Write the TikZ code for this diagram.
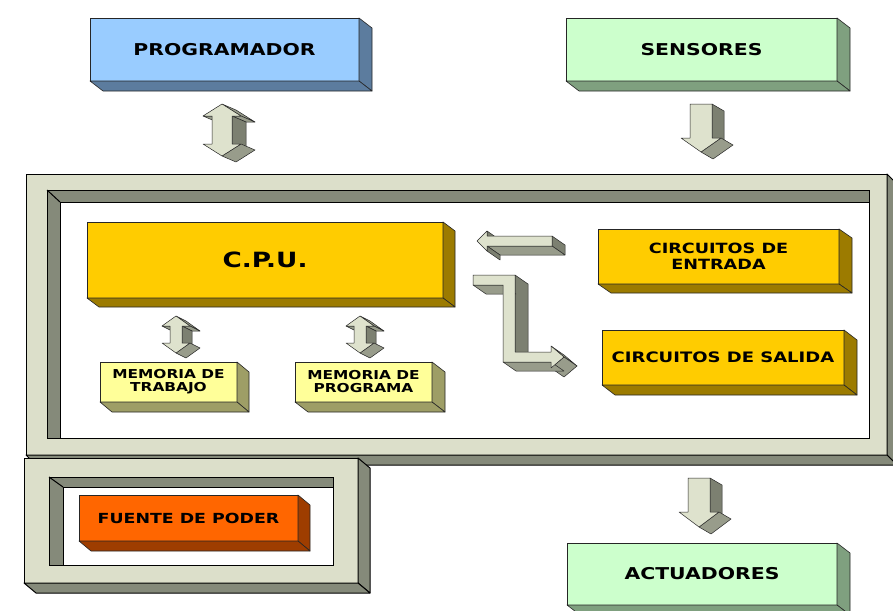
\documentclass[tikz,border=0pt]{standalone}
\usepackage{fontspec}
\newfontfamily\wide[FakeStretch=1.25]{DejaVu Sans}
\usetikzlibrary{calc}

\definecolor{edgecol}{HTML}{262626}
\definecolor{progfront}{HTML}{99CCFF}
\definecolor{progside}{HTML}{5C7C9E}
\definecolor{sensfront}{HTML}{CCFFCC}
\definecolor{sensside}{HTML}{7FA07F}
\definecolor{cpufront}{HTML}{FFCC00}
\definecolor{cpuside}{HTML}{9C7B00}
\definecolor{memfront}{HTML}{FFFF99}
\definecolor{memside}{HTML}{9E9E66}
\definecolor{fuefront}{HTML}{FF6600}
\definecolor{fueside}{HTML}{9E3D00}
\definecolor{framecol}{HTML}{DCDFCA}
\definecolor{bevelcol}{HTML}{858A7A}
\definecolor{arrowlight}{HTML}{DEE2CD}
\definecolor{arrowdark}{HTML}{7C8071}
\definecolor{arrowmid}{HTML}{989C8B}

\tikzset{
  slabface/.style={draw=edgecol, line width=0.6pt, outer sep=0pt, inner sep=0pt,
    align=center, text=black},
  slabside/.style={draw=edgecol, line width=0.6pt, line join=round},
  arrowface/.style={fill=arrowlight, draw=edgecol, line width=0.5pt, line join=round},
  arrowside/.style={draw=edgecol, line width=0.5pt, line join=round},
  framebody/.style={fill=framecol, draw=black, line width=1pt},
  framedepth/.style={fill=bevelcol, draw=black, line width=1pt, line join=round},
}

% extrusion depth of the boxes (down and to the right)
\def\slabdx{12}\def\slabdy{10}
\newcommand\setdepth[2]{\def\slabdx{#1}\def\slabdy{#2}}

% a raised box: name, x1, y1, x2, y2, front colour, side colour, font size, text
\newcommand\slab[9]{%
  \pgfmathsetmacro\slabcx{(#2+#4)/2}\pgfmathsetmacro\slabcy{(#3+#5)/2}%
  \pgfmathsetmacro\slabw{#4-#2}\pgfmathsetmacro\slabh{#5-#3}%
  \node[slabface, fill=#6, minimum width=\slabw pt, minimum height=\slabh pt,
        font={\wide\bfseries#8}] (#1) at (\slabcx,\slabcy) {#9};
  \filldraw[slabside, fill=#7] (#1.north east) -- ++(\slabdx,\slabdy)
     -- ([shift={(\slabdx,\slabdy)}]#1.south east) -- (#1.south east) -- cycle;
  \filldraw[slabside, fill=#7] (#1.south west) -- (#1.south east)
     -- ([shift={(\slabdx,\slabdy)}]#1.south east)
     -- ([shift={(\slabdx,\slabdy)}]#1.south west) -- cycle;
}

% one side face of an extruded outline, drawn only when it faces the viewer
\newcommand\sideface[6]{%
  \pgfmathsetmacro\sfn{(#4-#2)*#5-(#3-#1)*#6}%
  \ifdim\sfn pt>0pt
    \pgfmathsetmacro\sfa{abs(#4-#2)}\pgfmathsetmacro\sfb{abs(#3-#1)}%
    \ifdim\sfa pt>\sfb pt \def\sfcol{arrowdark}\else\def\sfcol{arrowmid}\fi
    \filldraw[arrowside, fill=\sfcol] (#1,#2) -- (#3,#4)
      -- ([shift={(#5,#6)}]#3,#4) -- ([shift={(#5,#6)}]#1,#2) -- cycle;
  \fi}

% a block arrow: depth dx, dy and its outline (clockwise on screen)
\newcommand\solid[3]{%
  \foreach \x/\y [count=\i] in {#3} {\ifnum\i=1 \xdef\sfx{\x}\xdef\sfy{\y}\fi
    \xdef\slx{\x}\xdef\sly{\y}}%
  \sideface{\slx}{\sly}{\sfx}{\sfy}{#1}{#2}%
  \foreach \x/\y [count=\i, remember=\x as \px (initially 0),
                  remember=\y as \py (initially 0)] in {#3}
    {\ifnum\i>1 \sideface{\px}{\py}{\x}{\y}{#1}{#2}\fi}%
  \filldraw[arrowface] (\sfx,\sfy) \foreach \x/\y in {#3} {-- (\x,\y)} -- cycle;
}

\begin{document}
\begin{tikzpicture}[x=1pt, y=-1pt]
\fill[white] (0,0) rectangle (893,610);
\useasboundingbox (0,0) rectangle (893,610);

% ---- main housing ----
\filldraw[framebody] (26,174) rectangle (887,455);
\filldraw[framedepth] (887,174) -- (897,184) -- (897,465) -- (887,455) -- cycle;
\filldraw[framedepth] (26,455) -- (887,455) -- (897,465) -- (36,465) -- cycle;
\fill[bevelcol] (47,190) rectangle (869,438);
\fill[white] (60,202) rectangle (869,438);
\draw[black, line width=1pt] (47,190) rectangle (869,438);
\draw[black, line width=1pt] (47,190) -- (60,202);
\draw[black, line width=1pt] (60,438) -- (60,202) -- (869,202);

% ---- power supply housing ----
\filldraw[framebody] (24,458) rectangle (358,583);
\filldraw[framedepth] (358,458) -- (370,468) -- (370,593) -- (358,583) -- cycle;
\filldraw[framedepth] (24,583) -- (358,583) -- (370,593) -- (36,593) -- cycle;
\fill[bevelcol] (49,477) rectangle (333,565);
\fill[white] (63,487) rectangle (333,565);
\draw[black, line width=1pt] (49,477) rectangle (333,565);
\draw[black, line width=1pt] (49,477) -- (63,487);
\draw[black, line width=1pt] (63,565) -- (63,487) -- (333,487);

% ---- boxes ----
\setdepth{13}{10}
\slab{prog}{90}{18}{359}{81}{progfront}{progside}{\fontsize{16.3}{18}\selectfont}{PROGRAMADOR}
\slab{sens}{566}{18}{837}{81}{sensfront}{sensside}{\fontsize{16.3}{18}\selectfont}{SENSORES}
\slab{act}{567}{543}{837}{605}{sensfront}{sensside}{\fontsize{16.3}{18}\selectfont}{ACTUADORES}
\setdepth{12}{9}
\slab{cpu}{87}{222}{443}{298}{cpufront}{cpuside}{\fontsize{21}{22}\selectfont}{C.P.U.}
\setdepth{12}{10}
\slab{memt}{100}{362}{237}{402}{memfront}{memside}{\fontsize{12.3}{13}\selectfont}{MEMORIA DE\\TRABAJO}
\setdepth{13}{10}
\slab{memp}{295}{362}{432}{402}{memfront}{memside}{\fontsize{12.3}{13}\selectfont}{MEMORIA DE\\PROGRAMA}
\setdepth{13}{9}
\slab{cin}{598}{229}{839}{284}{cpufront}{cpuside}{\fontsize{14.1}{15.5}\selectfont}{CIRCUITOS DE\\ENTRADA}
\setdepth{13}{10}
\slab{cout}{602}{330}{844}{385}{cpufront}{cpuside}{\fontsize{14.4}{16}\selectfont}{CIRCUITOS DE SALIDA}
\setdepth{12}{10}
\slab{fuente}{79}{495}{298}{541}{fuefront}{fueside}{\fontsize{13.9}{15}\selectfont}{FUENTE DE PODER}

% ---- block arrows ----
% programmer <-> controller
\solid{14}{6}{222/104, 241/116, 232/116, 232/144, 241/144, 222/156, 203/144, 212/144, 212/116, 203/116}
% sensors -> controller
\solid{12}{7}{690/104, 712/104, 712/138, 721/138, 701/152, 681/138, 690/138}
% controller -> actuators
\solid{12}{7}{688/478, 710/478, 710/512, 719/512, 699/527, 679/512, 688/512}
% CPU <-> working memory
\solid{10}{5}{176/316, 190/326, 182/326, 182/343, 190/343, 176/353, 162/343, 170/343, 170/326, 162/326}
% CPU <-> program memory
\solid{10}{5}{360/316, 374/326, 366/326, 366/343, 374/343, 360/353, 346/343, 354/343, 354/326, 346/326}
% input circuits -> CPU
\solid{13}{9}{477/241, 487/231, 487/236, 552/236, 552/246, 487/246, 487/251}
% CPU -> output circuits
\solid{13}{9}{473/275, 515/275, 515/352, 551/352, 551/346, 564/357, 551/368, 551/362, 503/362, 503/285, 473/285}
\end{tikzpicture}
\end{document}
